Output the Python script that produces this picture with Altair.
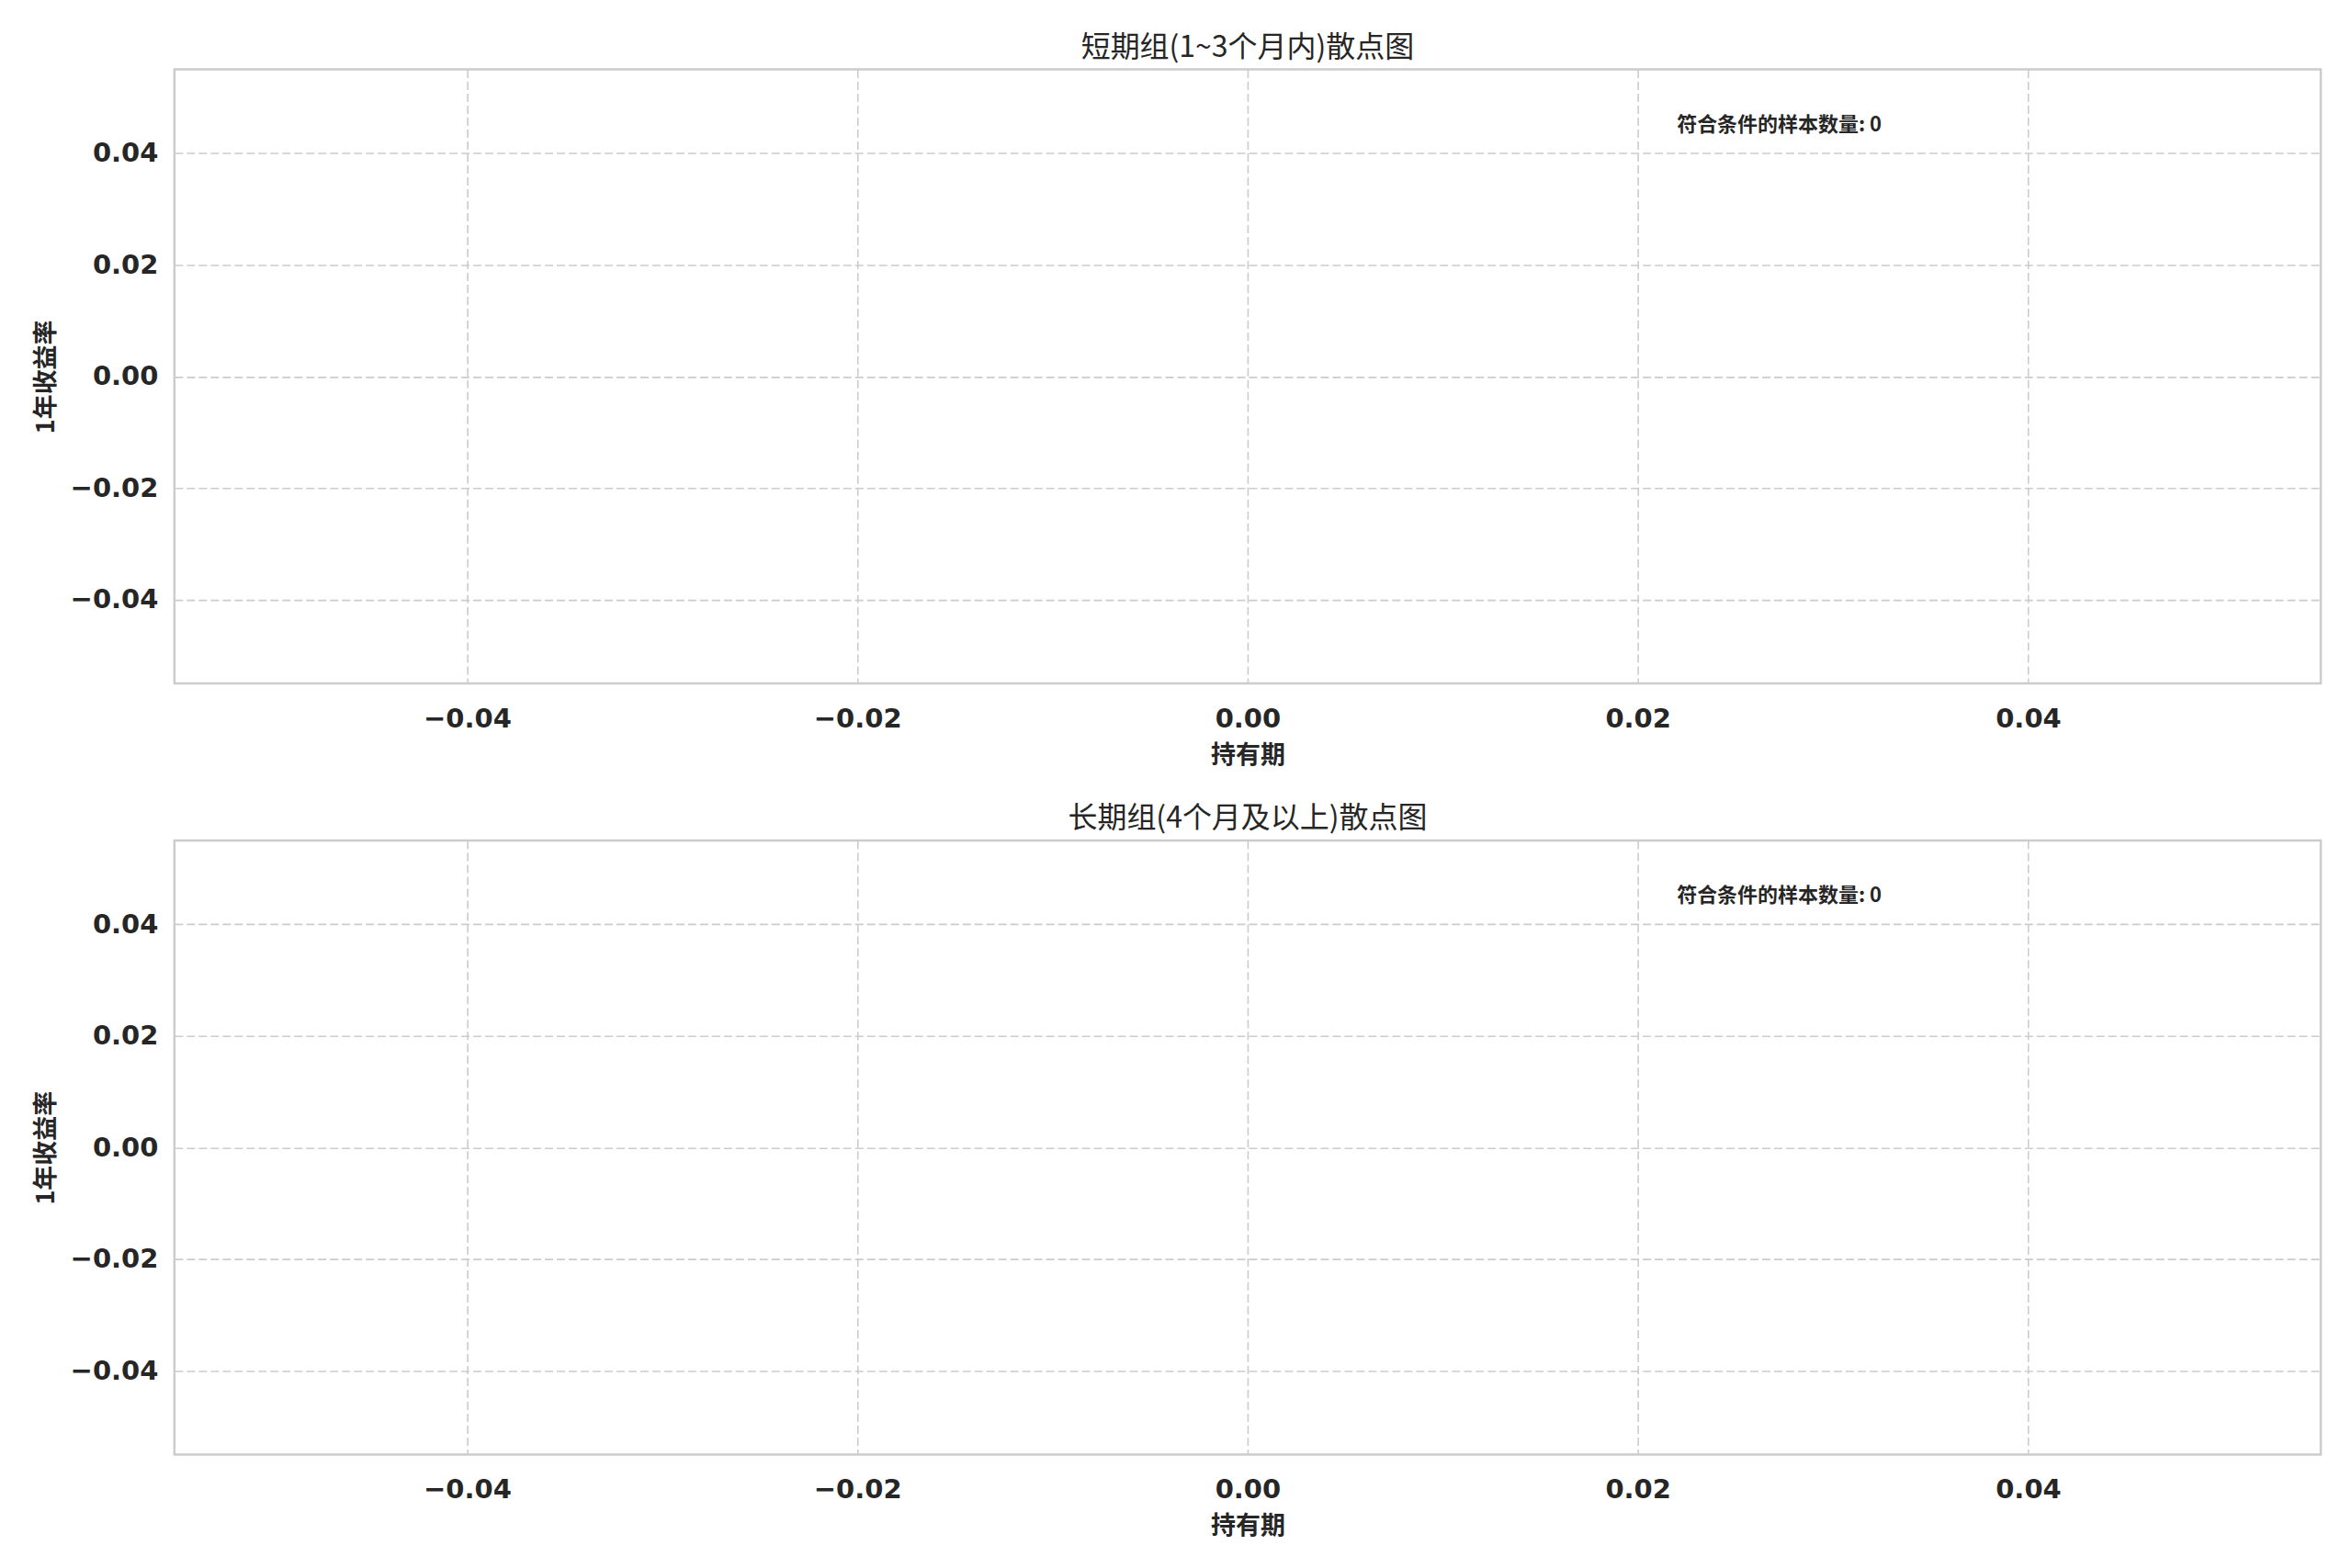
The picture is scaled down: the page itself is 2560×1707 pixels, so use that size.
import altair as alt
import pandas as pd

# ---- data (both panels are empty in the reference) ----
short_x = []
short_y = []
long_x = []
long_y = []
short_count = [0]
long_count = [0]

x_ticks = [-0.04, -0.02, 0.0, 0.02, 0.04]
y_ticks = [-0.04, -0.02, 0.0, 0.02, 0.04]
x_domain = [-0.055, 0.055]
y_domain = [-0.055, 0.055]

titles = ["短期组(1~3个月内)散点图", "长期组(4个月及以上)散点图"]
x_label = "持有期"
y_label = "1年收益率"
annot_label = "符合条件的样本数量"

W, H = 2338, 669
CJK = "Noto Sans CJK SC"
LAT = "DejaVu Sans"
INK = "#262626"


def panel(xs, ys, count, title):
    df = pd.DataFrame({"x": pd.Series(xs, dtype=float), "y": pd.Series(ys, dtype=float)})
    pts = alt.Chart(df).mark_circle(size=80, color="#4c72b0", opacity=0.7).encode(
        x=alt.X(
            "x:Q",
            scale=alt.Scale(domain=x_domain, nice=False, zero=False),
            axis=alt.Axis(values=x_ticks, format=".2f", title=x_label),
        ),
        y=alt.Y(
            "y:Q",
            scale=alt.Scale(domain=y_domain, nice=False, zero=False),
            axis=alt.Axis(values=y_ticks, format=".2f", title=y_label),
        ),
    )
    ann_df = pd.DataFrame({"t": [f"{annot_label}: {count[0]}"]})
    ann = alt.Chart(ann_df).mark_text(
        align="left", baseline="middle", fontSize=22, fontWeight="bold",
        font=CJK, color=INK,
    ).encode(x=alt.value(0.7 * W), y=alt.value(60), text="t:N")
    return alt.layer(pts, ann).properties(
        width=W, height=H,
        title=alt.TitleParams(title, font=CJK, fontSize=32, fontWeight="normal",
                              color=INK, offset=7, anchor="middle"),
    )


chart = alt.vconcat(
    panel(short_x, short_y, short_count, titles[0]),
    panel(long_x, long_y, long_count, titles[1]),
    spacing=36,
).properties(
    padding={"left": 26, "top": 25, "right": 24, "bottom": 20},
    background="white",
).configure_view(
    stroke="#cccccc", strokeWidth=2.5
).configure_axis(
    domain=False, ticks=False,
    grid=True, gridColor="#cccccc", gridDash=[9, 4], gridWidth=1.6,
    labelFont=LAT, labelFontSize=29, labelFontWeight="bold", labelColor=INK,
    labelPadding=18,
    titleFont=CJK, titleFontSize=27, titleFontWeight="bold", titleColor=INK,
    titlePadding=12,
).configure_axisX(
    labelPadding=24,
)

chart.save("out.html", embed_options={"renderer": "svg", "actions": False})
